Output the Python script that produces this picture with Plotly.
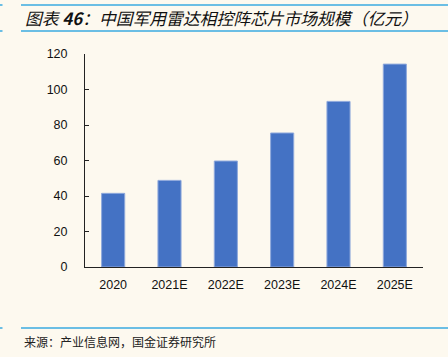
import plotly.graph_objects as go

categories = ["2020", "2021E", "2022E", "2023E", "2024E", "2025E"]
values = [41.5, 48.8, 59.7, 75.5, 93.3, 114.3]
y_ticks = [0, 20, 40, 60, 80, 100, 120]

W, H = 448, 357
L, R, T, B = 85, 25, 54, 90
PW, PH = W - L - R, H - T - B

def px(x):
    return (x - L) / PW

def py(y):
    return (H - B - y) / PH

BG = "#FDF9EF"
LINE = "#3AAAE0"

fig = go.Figure()
fig.add_trace(go.Bar(
    x=categories, y=values,
    marker=dict(color="#4472C4", line=dict(color="#8FA9DC", width=1)),
    width=0.41,
))

shapes = []
for y in (5, 31, 328):
    shapes.append(dict(type="line", xref="paper", yref="paper",
                       x0=px(21), x1=px(448), y0=py(y), y1=py(y),
                       line=dict(color=LINE, width=1.5)))
    shapes.append(dict(type="line", xref="paper", yref="paper",
                       x0=px(0), x1=px(2.5), y0=py(y), y1=py(y),
                       line=dict(color=LINE, width=1.5)))

annotations = [
    dict(text="<i>图表 <b>46</b>：中国军用雷达相控阵芯片市场规模（亿元）</i>",
         xref="paper", yref="paper", x=px(23), y=py(18),
         xanchor="left", yanchor="middle", showarrow=False,
         font=dict(family="Noto Sans CJK SC", size=16.8, color="#111111")),
    dict(text="来源：产业信息网，国金证券研究所",
         xref="paper", yref="paper", x=px(22), y=py(341),
         xanchor="left", yanchor="middle", showarrow=False,
         font=dict(family="Noto Sans CJK SC", size=12, color="#222222")),
]

fig.update_layout(
    width=W, height=H,
    margin=dict(l=L, r=R, t=T, b=B, pad=0),
    paper_bgcolor=BG, plot_bgcolor=BG,
    showlegend=False,
    shapes=shapes, annotations=annotations,
    font=dict(family="Liberation Sans", size=12.5, color="#111111"),
    xaxis=dict(type="category", range=[-0.5, 5.5], showline=True,
               linecolor="#222222", linewidth=1, ticks="", showgrid=False,
               tickfont=dict(size=12.5), ticklabelstandoff=6),
    yaxis=dict(range=[0, 120], tickvals=y_ticks, showline=True,
               linecolor="#222222", linewidth=1, ticks="inside",
               ticklen=4, tickcolor="#222222", showgrid=False,
               zeroline=False, ticklabelstandoff=14,
               tickfont=dict(size=12.5)),
    bargap=0.59,
)

fig.write_html("out.html",
               config={"displayModeBar": False},
               post_script="document.body.style.margin='0';document.body.style.background='%s';" % BG)
